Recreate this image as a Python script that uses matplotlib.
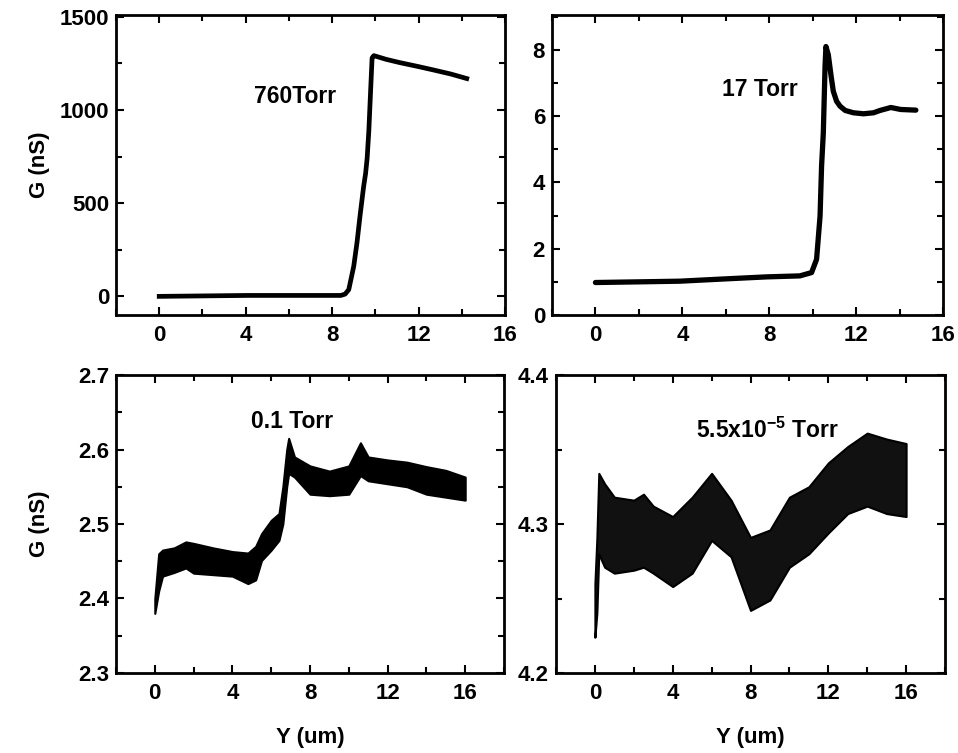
import numpy as np
import matplotlib
matplotlib.use('Agg')
import matplotlib.pyplot as plt
from matplotlib.ticker import MultipleLocator

plt.rcParams['font.family'] = ['Liberation Sans', 'DejaVu Sans']
plt.rcParams['font.weight'] = 'bold'
plt.rcParams['mathtext.fontset'] = 'custom'
plt.rcParams['mathtext.rm'] = 'Liberation Sans:bold'
plt.rcParams['mathtext.bf'] = 'Liberation Sans:bold'

# 760 Torr
atm_x = [0, 4.1, 8.4, 8.6, 8.77, 9.0, 9.15, 9.3, 9.46, 9.55, 9.62, 9.7, 9.78, 9.85,
         9.93, 10.5, 11.15, 12.0, 12.69, 13.5, 14.23]
atm_g = [0, 5, 5, 12, 36, 161, 287, 440, 591, 660, 740, 890, 1100, 1280,
         1292, 1272, 1254, 1233, 1215, 1193, 1169]

# 17 Torr
t17_x = [0, 2, 3.88, 6, 7.88, 9.41, 9.95, 10.18, 10.34, 10.41, 10.49, 10.57, 10.61,
         10.72, 10.85, 10.95, 11.1, 11.26, 11.5, 11.88, 12.34, 12.8, 13.1, 13.6,
         14.05, 14.75]
t17_g = [0.98, 1.0, 1.02, 1.09, 1.15, 1.18, 1.28, 1.68, 2.98, 4.49, 5.49, 7.5, 8.1,
         7.85, 7.2, 6.75, 6.45, 6.3, 6.17, 6.1, 6.07, 6.1, 6.17, 6.26, 6.2, 6.18]

# 0.1 Torr (noisy band: upper / lower envelope)
t01_x = [0.0, 0.2, 0.4, 1.0, 1.6, 2.0, 3.0, 4.0, 4.8, 5.2, 5.5, 6.0, 6.4, 6.6,
         6.8, 6.9, 7.2, 8.0, 9.0, 10.0, 10.6, 11.0, 12.0, 13.0, 14.0, 15.0, 16.0]
t01_hi = [2.40, 2.46, 2.465, 2.468, 2.476, 2.474, 2.468, 2.463, 2.461, 2.47, 2.487,
          2.505, 2.514, 2.55, 2.60, 2.615, 2.59, 2.578, 2.571, 2.578, 2.609, 2.59,
          2.586, 2.583, 2.577, 2.572, 2.563]
t01_lo = [2.38, 2.41, 2.43, 2.435, 2.441, 2.434, 2.432, 2.43, 2.42, 2.425, 2.451,
          2.465, 2.478, 2.50, 2.55, 2.568, 2.563, 2.54, 2.538, 2.54, 2.565, 2.558,
          2.554, 2.55, 2.54, 2.536, 2.532]

# 5.5x10^-5 Torr
vac_x = [0.0, 0.1, 0.2, 0.5, 1.0, 2.0, 2.5, 3.0, 4.0, 5.0, 6.0, 7.0, 8.0, 9.0,
         10.0, 11.0, 12.0, 13.0, 14.0, 15.0, 16.0]
vac_hi = [4.26, 4.29, 4.334, 4.327, 4.318, 4.316, 4.32, 4.312, 4.305, 4.318, 4.334,
          4.316, 4.291, 4.296, 4.318, 4.325, 4.341, 4.352, 4.361, 4.357, 4.354]
vac_lo = [4.224, 4.24, 4.28, 4.271, 4.267, 4.269, 4.271, 4.267, 4.258, 4.267, 4.289,
          4.278, 4.242, 4.249, 4.271, 4.28, 4.294, 4.307, 4.312, 4.307, 4.305]

fig = plt.figure(figsize=(9.58, 7.53), dpi=100)
W, H = 958, 753


def make_ax(x0, y0, x1, y1):
    return fig.add_axes([x0 / W, 1 - y1 / H, (x1 - x0) / W, (y1 - y0) / H])


ax1 = make_ax(116, 15, 505, 315)
ax2 = make_ax(552, 15, 943, 315)
ax3 = make_ax(116, 375, 504, 673)
ax4 = make_ax(556, 375, 945, 673)

ax1.plot(atm_x, atm_g, color='black', lw=3.4, solid_joinstyle='round')
ax2.plot(t17_x, t17_g, color='black', lw=3.8, solid_capstyle='round',
         solid_joinstyle='round')
ax3.fill_between(t01_x, t01_lo, t01_hi, color='black', lw=1.5, edgecolor='black')
ax4.fill_between(vac_x, vac_lo, vac_hi, facecolor='#111111', lw=1.5, edgecolor='black')

ax1.set_xlim(-2, 16)
ax1.set_ylim(-100, 1510)
ax2.set_xlim(-2, 16)
ax2.set_ylim(0, 9.05)
ax3.set_xlim(-2, 18)
ax3.set_ylim(2.3, 2.7)
ax4.set_xlim(-2, 18)
ax4.set_ylim(4.2, 4.4)

ax1.yaxis.set_major_locator(MultipleLocator(500))
ax1.yaxis.set_minor_locator(MultipleLocator(250))
ax2.yaxis.set_major_locator(MultipleLocator(2))
ax2.yaxis.set_minor_locator(MultipleLocator(1))
ax3.yaxis.set_major_locator(MultipleLocator(0.1))
ax3.yaxis.set_minor_locator(MultipleLocator(0.05))
ax4.yaxis.set_major_locator(MultipleLocator(0.1))
ax4.yaxis.set_minor_locator(MultipleLocator(0.05))

for ax in (ax1, ax2, ax3, ax4):
    ax.xaxis.set_major_locator(MultipleLocator(4))
    ax.xaxis.set_minor_locator(MultipleLocator(2))
    ax.tick_params(which='both', direction='in', top=True, right=True,
                   width=1.5, labelsize=16)
    ax.tick_params(which='major', length=6)
    ax.tick_params(which='minor', length=4)
    ax.tick_params(axis='x', pad=7)
    ax.tick_params(axis='y', pad=5)
    for s in ax.spines.values():
        s.set_linewidth(2)
    for lab in ax.get_xticklabels() + ax.get_yticklabels():
        lab.set_fontweight('bold')

ax1.set_ylabel('G (nS)', fontsize=16, fontweight='bold')
ax1.yaxis.set_label_coords(-0.17, 0.5)
ax3.set_ylabel('G (nS)', fontsize=16, fontweight='bold')
ax3.yaxis.set_label_coords(-0.17, 0.5)
ax3.set_xlabel('Y (um)', fontsize=16, fontweight='bold')
ax3.xaxis.set_label_coords(0.5, -0.18)
ax4.set_xlabel('Y (um)', fontsize=16, fontweight='bold')
ax4.xaxis.set_label_coords(0.5, -0.18)

ax1.text(6.3, 1074, '760Torr', fontsize=16.5, fontweight='bold', ha='center', va='center')
ax2.text(7.57, 6.8, '17 Torr', fontsize=16.5, fontweight='bold', ha='center', va='center')
ax3.text(7.1, 2.637, '0.1 Torr', fontsize=16.5, fontweight='bold', ha='center', va='center')
ax4.text(8.85, 4.363, r'5.5x10$^{\mathbf{-5}}$ Torr', fontsize=16.5, fontweight='bold',
         ha='center', va='center')

fig.savefig('out.png', dpi=100)
